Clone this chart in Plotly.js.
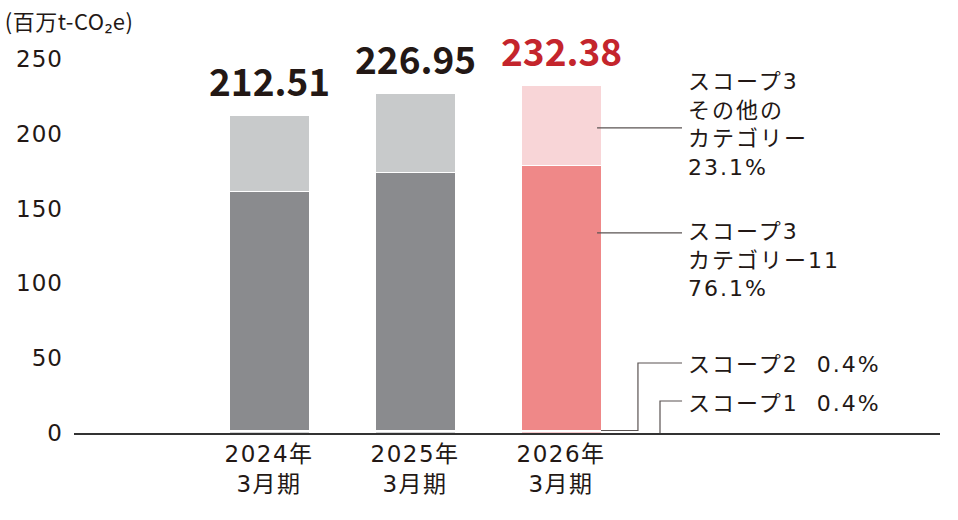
<!DOCTYPE html>
<html>
<head>
<meta charset="utf-8">
<script src="https://cdn.plot.ly/plotly-3.0.1.min.js"></script>
<style>
html,body{margin:0;padding:0;background:#fff;}
.xtick text{letter-spacing:1.5px;}
.ytick text{letter-spacing:1px;}
.gtitle{letter-spacing:0.5px;}
.annotation.side-label text{letter-spacing:2px;}
</style>
</head>
<body>
<div id="chart" style="width:958px;height:520px;"></div>
<script>
// ---- data ----
const categories = ['2024年<br>3月期', '2025年<br>3月期', '2026年<br>3月期'];
const scope1 = [0.85, 0.9, 0.93];
const scope2 = [0.85, 0.9, 0.93];
const cat11 = [159.4, 172.6, 176.84];
const otherCats = [51.41, 52.55, 53.68];
const totals = [212.51, 226.95, 232.38];
const totalLabels = ['212.51', '226.95', '232.38'];
const yTicks = [0, 50, 100, 150, 200, 250];
const unitLabel = '(百万t-CO₂e)';
const labelOther = ['スコープ3', 'その他の', 'カテゴリー', '23.1%'];
const labelCat11 = ['スコープ3', 'カテゴリー11', '76.1%'];
const labelScope2 = 'スコープ2\u00a0\u00a00.4%';
const labelScope1 = 'スコープ1\u00a0\u00a00.4%';

// ---- styles ----
const JP = '"Noto Sans CJK JP", "Noto Sans", sans-serif';
const WIDE = '"DejaVu Sans", "Noto Sans CJK JP", sans-serif';
const greyDark = '#8a8b8e', greyLight = '#c8cacb';
const redDark = '#ef8888', redLight = '#f8d5d7';
const lowGrey = '#d3d4d5', lowRed = '#f6c9cb';
const textCol = '#231815';
const idx = categories.map((_, i) => i);
const W = 0.548;
const line = {color: '#ffffff', width: 1};

function barTrace(vals, cols) {
  return {type: 'bar', x: idx, y: vals, width: W,
    marker: {color: cols, line: line}, hoverinfo: 'skip', showlegend: false};
}
const traces = [
  barTrace(scope1, [lowGrey, lowGrey, lowRed]),
  barTrace(scope2, [lowGrey, lowGrey, lowRed]),
  barTrace(cat11, [greyDark, greyDark, redDark]),
  barTrace(otherCats, [greyLight, greyLight, redLight])
];

const annotations = [];
totals.forEach((t, i) => {
  annotations.push({x: i, y: t, xref: 'x', yref: 'y', text: totalLabels[i], showarrow: false,
    yanchor: 'bottom', yshift: 6,
    font: {family: JP, size: 37, weight: 'bold', color: i === 2 ? '#c4252c' : textCol}});
});
const last = categories.length - 1;
const labX = last + 0.857;
const sideFont = {family: WIDE, size: 22, color: textCol};
function sideLabel(text, y) {
  annotations.push({x: labX, y: y, xref: 'x', yref: 'y', text: text, showarrow: false,
    xanchor: 'left', yanchor: 'middle', align: 'left', font: sideFont, name: 'side'});
}
sideLabel(labelOther.join('<br>'), 205.9);
sideLabel(labelCat11.join('<br>'), 115.6);
sideLabel(labelScope2, 45.5);
sideLabel(labelScope1, 20);

const lc = {color: '#5a5352', width: 1.2};
const s12 = scope1[last] + scope2[last];
const edgeIn = last + 0.247, lineEnd = last + 0.829;
const shapes = [
  {type: 'line', xref: 'x', yref: 'y', x0: edgeIn, x1: lineEnd, y0: 203.9, y1: 203.9, line: lc},
  {type: 'line', xref: 'x', yref: 'y', x0: edgeIn, x1: lineEnd, y0: 133.7, y1: 133.7, line: lc},
  {type: 'path', xref: 'x', yref: 'y',
    path: `M${last + 0.274},${s12 * 0.9} L${last + 0.527},${s12 * 0.9} L${last + 0.527},46.8 L${lineEnd},46.8`,
    line: lc},
  {type: 'path', xref: 'x', yref: 'y',
    path: `M${last + 0.678},0 L${last + 0.678},21.4 L${lineEnd},21.4`, line: lc}
];

const layout = {
  width: 958, height: 520,
  margin: {l: 74, r: 18, t: 44, b: 87},
  paper_bgcolor: '#ffffff', plot_bgcolor: '#ffffff',
  barmode: 'stack', bargap: 0,
  font: {family: JP, color: textCol},
  title: {text: unitLabel, x: 0.005, xanchor: 'left', xref: 'container', yref: 'container',
    y: 1 - 22 / 520, yanchor: 'middle', font: {family: JP, size: 22, color: textCol}},
  xaxis: {type: 'linear', range: [-1.336, 4.596], tickvals: idx, ticktext: categories,
    showgrid: false, zeroline: false, showline: true, linecolor: '#333333', linewidth: 1.5,
    ticks: '', tickfont: {family: WIDE, size: 23, color: textCol}, ticklabelstandoff: 0, fixedrange: true},
  yaxis: {range: [0, 260], tickvals: yTicks, showgrid: false, zeroline: false, showline: false,
    ticks: '', tickfont: {family: WIDE, size: 23, color: textCol}, ticklabelstandoff: 10, fixedrange: true},
  annotations: annotations,
  shapes: shapes
};

Plotly.newPlot('chart', traces, layout, {displayModeBar: false, staticPlot: true}).then(() => {
  // widen side label tracking like the reference typeface
  document.querySelectorAll('.annotation').forEach((g, i) => {
    if (i >= totals.length) g.classList.add('side-label');
  });
});
</script>
</body>
</html>
